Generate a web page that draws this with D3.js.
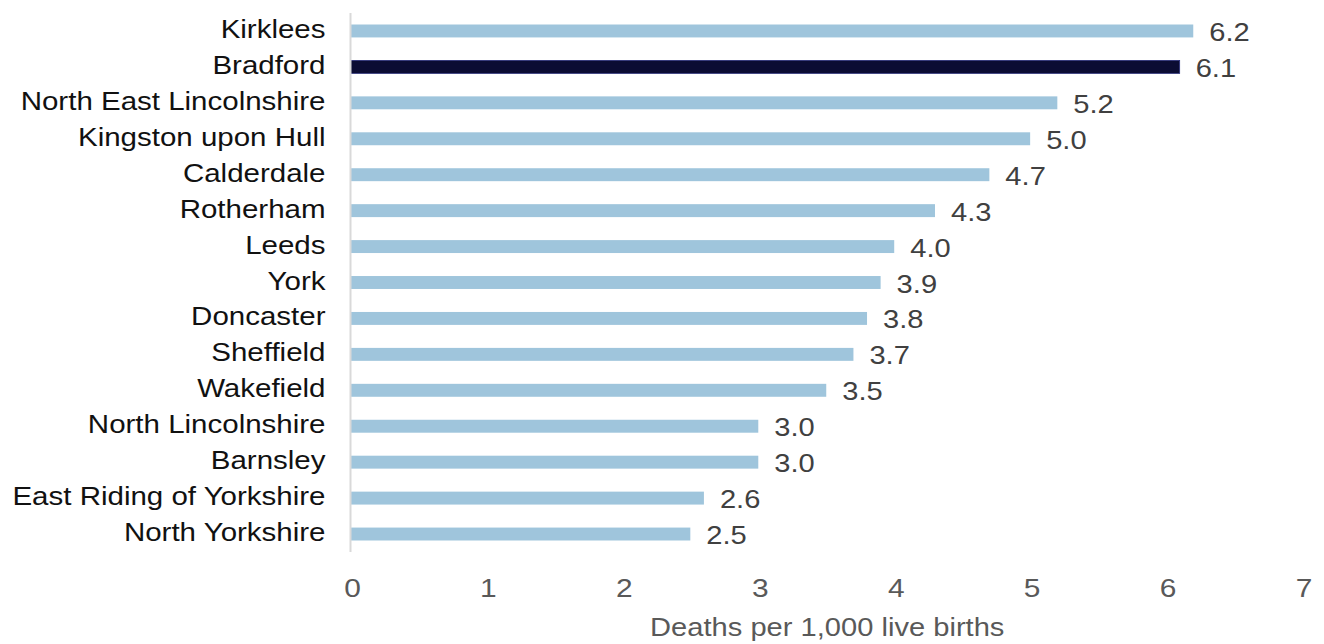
<!DOCTYPE html>
<html>
<head>
<meta charset="utf-8">
<script src="https://cdn.jsdelivr.net/npm/d3@7"></script>
<style>
  html, body { margin: 0; padding: 0; background: #fff; }
  svg { display: block; font-family: "Liberation Sans", Arial, sans-serif; }
</style>
</head>
<body>
<svg id="chart" width="1324" height="644"></svg>
<script>
// Infant mortality by local authority, deaths per 1,000 live births
const areas = [
  "Kirklees", "Bradford", "North East Lincolnshire", "Kingston upon Hull",
  "Calderdale", "Rotherham", "Leeds", "York", "Doncaster", "Sheffield",
  "Wakefield", "North Lincolnshire", "Barnsley", "East Riding of Yorkshire",
  "North Yorkshire"
];
const rates = [6.2, 6.1, 5.2, 5.0, 4.7, 4.3, 4.0, 3.9, 3.8, 3.7, 3.5, 3.0, 3.0, 2.6, 2.5];
const highlighted = ["Bradford"];
const xTicks = [0, 1, 2, 3, 4, 5, 6, 7];
const xTitle = "Deaths per 1,000 live births";

const svg = d3.select("#chart");
const plotLeft = 350.5, plotRight = 1302, plotTop = 13, plotBottom = 552;
const FONT = "Liberation Sans, Arial, sans-serif";

const x = d3.scaleLinear().domain([0, 7]).range([plotLeft, plotRight]);
const y = d3.scaleBand().domain(areas).range([plotTop, plotBottom]).paddingInner(0.64).paddingOuter(0.32);

// text in this chart is set slightly wide; stretch horizontally around its anchor
function wide(sel, dx, dy, sx) {
  sel.attr("x", 0).attr("y", 0).attr("dy", null)
     .attr("transform", `translate(${dx},${dy}) scale(${sx},1)`);
}

// bars
svg.append("g").selectAll("rect")
  .data(areas)
  .join("rect")
  .attr("x", x(0))
  .attr("y", d => y(d))
  .attr("width", (d, i) => x(rates[i]) - x(0))
  .attr("height", y.bandwidth())
  .attr("fill", d => highlighted.includes(d) ? "#0b0c33" : "#9fc5dc")
  .attr("stroke", d => highlighted.includes(d) ? "#2a2f7a" : "none")
  .attr("stroke-width", 0.8);

// value labels
svg.append("g").selectAll("text")
  .data(areas)
  .join("text")
  .attr("font-size", 26)
  .attr("fill", "#404040")
  .text((d, i) => rates[i].toFixed(1))
  .each(function (d, i) {
    wide(d3.select(this), x(rates[i]) + 16, y(d) + y.bandwidth() / 2 + 10, 1.12);
  });

// category axis
const yAxis = svg.append("g")
  .attr("transform", `translate(${plotLeft},0)`)
  .call(d3.axisLeft(y).tickSize(0).tickPadding(25));
yAxis.select(".domain").attr("stroke", "#d9d9d9").attr("stroke-width", 2)
  .attr("d", `M0,${plotTop}V${plotBottom}`);
yAxis.selectAll(".tick text")
  .attr("font-size", 25)
  .attr("fill", "#111")
  .attr("font-family", FONT)
  .each(function () { wide(d3.select(this), -25, 7, 1.18); });

// value axis (labels only)
const xAxis = svg.append("g")
  .attr("transform", `translate(0,${plotBottom})`)
  .call(d3.axisBottom(x).tickValues(xTicks).tickSize(0).tickFormat(d3.format("d")));
xAxis.select(".domain").remove();
xAxis.selectAll(".tick text")
  .attr("font-size", 26)
  .attr("fill", "#595959")
  .attr("font-family", FONT)
  .each(function () { wide(d3.select(this), 1.5, 45, 1.15); });

// axis title
svg.append("text")
  .attr("text-anchor", "middle")
  .attr("font-size", 26)
  .attr("fill", "#595959")
  .text(xTitle)
  .call(wide, (plotLeft + plotRight) / 2 + 1, 636, 1.12);
</script>
</body>
</html>
